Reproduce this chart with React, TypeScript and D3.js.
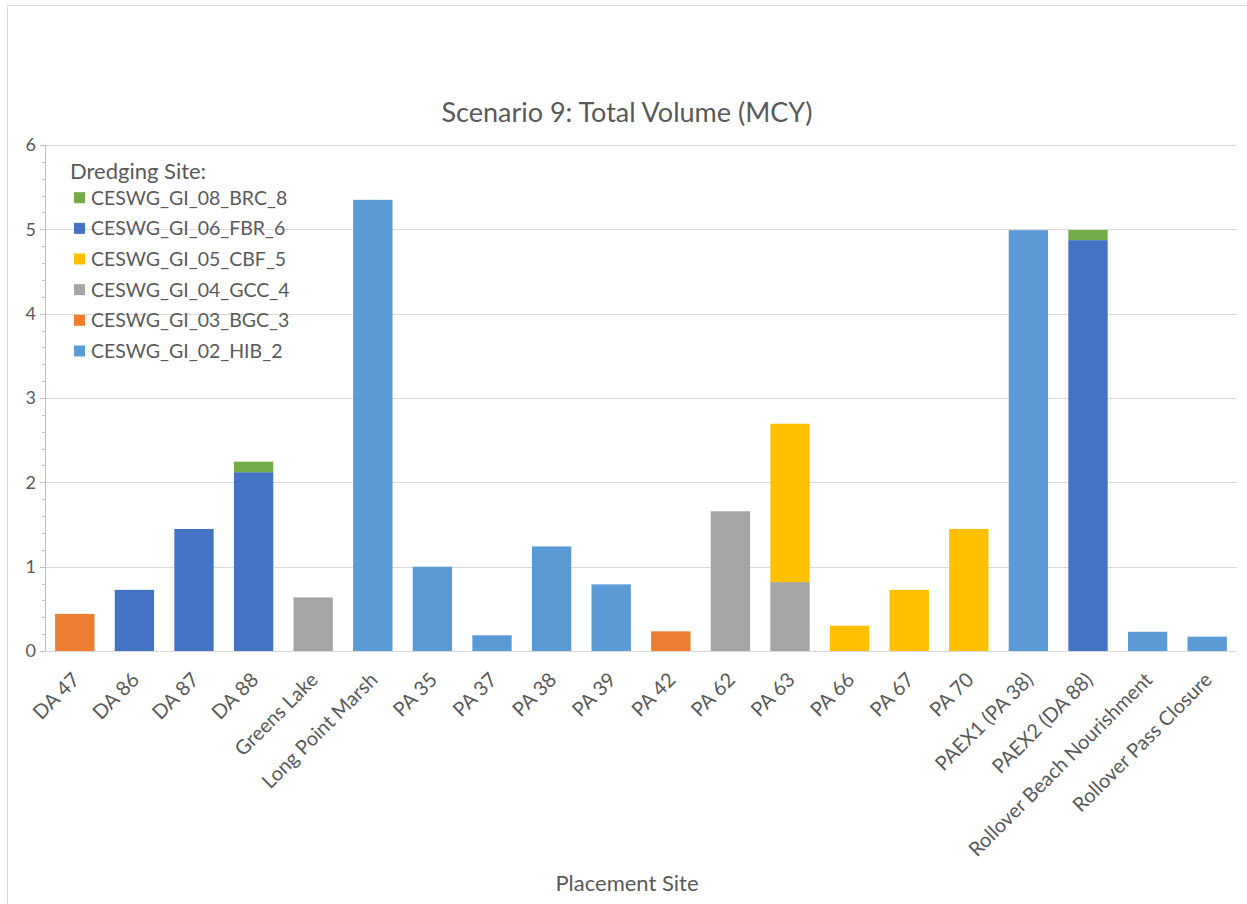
import React from "react";
import * as d3 from "d3";

const categories = [
  "DA 47", "DA 86", "DA 87", "DA 88", "Greens Lake", "Long Point Marsh",
  "PA 35", "PA 37", "PA 38", "PA 39", "PA 42", "PA 62", "PA 63", "PA 66",
  "PA 67", "PA 70", "PAEX1 (PA 38)", "PAEX2 (DA 88)",
  "Rollover Beach Nourishment", "Rollover Pass Closure",
];

const seriesNames = [
  "CESWG_GI_02_HIB_2", "CESWG_GI_03_BGC_3", "CESWG_GI_04_GCC_4",
  "CESWG_GI_05_CBF_5", "CESWG_GI_06_FBR_6", "CESWG_GI_08_BRC_8",
];
const seriesColors = ["#5B9BD5", "#ED7D31", "#A5A5A5", "#FFC000", "#4472C4", "#70AD47"];

const hib2 = [0, 0, 0, 0, 0, 5.35, 1.0, 0.186, 1.24, 0.79, 0, 0, 0, 0, 0, 0, 4.99, 0, 0.228, 0.17];
const bgc3 = [0.44, 0, 0, 0, 0, 0, 0, 0, 0, 0, 0.233, 0, 0, 0, 0, 0, 0, 0, 0, 0];
const gcc4 = [0, 0, 0, 0, 0.635, 0, 0, 0, 0, 0, 0, 1.657, 0.817, 0, 0, 0, 0, 0, 0, 0];
const cbf5 = [0, 0, 0, 0, 0, 0, 0, 0, 0, 0, 0, 0, 1.878, 0.30, 0.725, 1.447, 0, 0, 0, 0];
const fbr6 = [0, 0.725, 1.447, 2.12, 0, 0, 0, 0, 0, 0, 0, 0, 0, 0, 0, 0, 0, 4.872, 0, 0];
const brc8 = [0, 0, 0, 0.125, 0, 0, 0, 0, 0, 0, 0, 0, 0, 0, 0, 0, 0, 0.12, 0, 0];

const seriesValues = [hib2, bgc3, gcc4, cbf5, fbr6, brc8];
const yTicks = [0, 1, 2, 3, 4, 5, 6];

const W = 1247;
const H = 904;
const FONT = "Lato, 'Open Sans', sans-serif";
const TXT = "#595959";

export default function App() {
  const left = 45, right = 1237, top = 145, bottom = 651;

  const x = d3.scaleBand<string>().domain(categories).range([left, right]).paddingInner(0.34).paddingOuter(0.17);
  const y = d3.scaleLinear().domain([0, 6]).range([bottom, top]);

  const rows = categories.map((c, i) => {
    const r: any = { cat: c };
    seriesNames.forEach((s, k) => (r[s] = seriesValues[k][i]));
    return r;
  });
  const stacked = d3.stack<any>().keys(seriesNames)(rows);
  const minorTicks = d3.range(0, 6.0001, 0.2);

  const legendOrder = [...seriesNames.keys()].reverse();

  return (
    <svg width={W} height={H} style={{ position: "absolute", left: 0, top: 0, background: "#fff" }} fontFamily={FONT}>
      <rect x={7.5} y={5.5} width={W + 20} height={H + 20} fill="#fff" stroke="#D9D9D9" strokeWidth={1} />
      <text x={627} y={122} textAnchor="middle" fontSize={27} fill={TXT}>Scenario 9: Total Volume (MCY)</text>

      {/* gridlines */}
      {yTicks.map((t) => (
        <line key={"g" + t} x1={left} x2={right} y1={Math.round(y(t)) + 0.5} y2={Math.round(y(t)) + 0.5} stroke="#D9D9D9" strokeWidth={1} />
      ))}
      {/* y axis */}
      <line x1={left + 0.5} x2={left + 0.5} y1={top} y2={bottom} stroke="#BFBFBF" />
      {minorTicks.map((t, i) => (
        <line key={"m" + i} x1={left - 3} x2={left} y1={Math.round(y(t)) + 0.5} y2={Math.round(y(t)) + 0.5} stroke="#BFBFBF" />
      ))}
      {yTicks.map((t) => (
        <g key={"t" + t}>
          <line x1={left - 5} x2={left} y1={Math.round(y(t)) + 0.5} y2={Math.round(y(t)) + 0.5} stroke="#BFBFBF" />
          <text x={36} y={y(t)} dy="0.36em" textAnchor="end" fontSize={18} fill={TXT}>{t}</text>
        </g>
      ))}

      {/* bars */}
      {stacked.map((layer, k) => (
        <g key={"s" + k} fill={seriesColors[k]}>
          {layer.map((d, i) =>
            d[1] - d[0] > 0 ? (
              <rect key={i} x={x(categories[i])} width={x.bandwidth()} y={y(d[1])} height={y(d[0]) - y(d[1])} />
            ) : null
          )}
        </g>
      ))}

      {/* x labels */}
      {categories.map((c) => (
        <text key={c} transform={`translate(${(x(c) as number) + x.bandwidth() / 2 + 1},${bottom + 25}) rotate(-45)`} textAnchor="end" dy="0.36em" fontSize={20} fill={TXT}>{c}</text>
      ))}
      <text x={627} y={891} textAnchor="middle" fontSize={22} fill={TXT}>Placement Site</text>

      {/* legend */}
      <text x={70} y={179} fontSize={22} fill={TXT}>Dredging Site:</text>
      {legendOrder.map((k, j) => {
        const cy = 197.7 + j * 30.65;
        return (
          <g key={"l" + k}>
            <rect x={74} y={cy - 5.5} width={11} height={11} fill={seriesColors[k]} />
            <text x={91} y={cy} dy="0.36em" fontSize={19.5} fill={TXT}>{seriesNames[k]}</text>
          </g>
        );
      })}
    </svg>
  );
}
